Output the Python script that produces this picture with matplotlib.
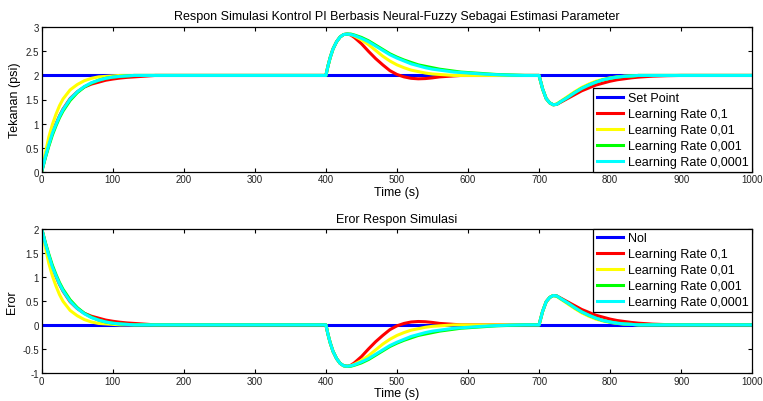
import matplotlib
matplotlib.use("Agg")
import matplotlib.pyplot as plt

plt.rcParams["font.family"] = ["Liberation Sans", "DejaVu Sans"]

# time grid (s) shared by all response series
T = [0, 5, 10, 15, 20, 25, 30, 40, 50, 60, 70, 80, 90, 100, 110, 120, 130, 140, 150, 160,
     200, 300, 400, 403, 406, 410, 415, 420, 425, 430, 435,
     440, 450, 460, 470, 480, 490, 500, 510, 520, 530, 540, 550, 560, 570, 580, 590, 600,
     620, 640, 660, 680, 700, 705, 710, 715, 720, 725, 730,
     740, 750, 760, 770, 780, 790, 800, 810, 820, 830, 840, 850, 860, 870, 880, 900, 1000]

# pressure response (psi)
LR_01 = [0, 0.30, 0.56, 0.80, 0.99, 1.16, 1.30, 1.52, 1.66, 1.76, 1.82, 1.86, 1.90, 1.925, 1.945, 1.96, 1.97, 1.98, 1.99, 2.0,
         2.0, 2.0, 2.0, 2.2, 2.37, 2.55, 2.70, 2.80, 2.85, 2.86, 2.84,
         2.79, 2.66, 2.50, 2.35, 2.22, 2.10, 2.02, 1.97, 1.94, 1.93, 1.935, 1.95, 1.97, 1.98, 1.99, 2.0, 2.0,
         2.0, 2.0, 2.0, 2.0, 2.0, 1.72, 1.52, 1.43, 1.39, 1.40, 1.44,
         1.52, 1.60, 1.68, 1.74, 1.80, 1.84, 1.88, 1.91, 1.93, 1.95, 1.965, 1.975, 1.985, 1.99, 1.995, 2.0, 2.0]
LR_001 = [0, 0.38, 0.72, 0.98, 1.19, 1.37, 1.51, 1.70, 1.81, 1.89, 1.94, 1.97, 1.98, 1.99, 2.0, 2.0, 2.0, 2.0, 2.0, 2.0,
          2.0, 2.0, 2.0, 2.2, 2.37, 2.55, 2.70, 2.80, 2.85, 2.86, 2.85,
          2.82, 2.74, 2.64, 2.52, 2.40, 2.30, 2.22, 2.16, 2.11, 2.08, 2.05, 2.03, 2.02, 2.01, 2.0, 2.0, 2.0,
          2.0, 2.0, 2.0, 2.0, 2.0, 1.72, 1.52, 1.43, 1.39, 1.41, 1.46,
          1.56, 1.66, 1.75, 1.82, 1.88, 1.92, 1.95, 1.97, 1.985, 1.99, 2.0, 2.0, 2.0, 2.0, 2.0, 2.0, 2.0]
LR_0001 = [0, 0.28, 0.53, 0.76, 0.95, 1.12, 1.26, 1.48, 1.64, 1.76, 1.84, 1.90, 1.94, 1.965, 1.98, 1.99, 2.0, 2.0, 2.0, 2.0,
           2.0, 2.0, 2.0, 2.2, 2.37, 2.55, 2.70, 2.80, 2.85, 2.86, 2.86,
           2.84, 2.79, 2.72, 2.63, 2.54, 2.45, 2.38, 2.32, 2.27, 2.22, 2.19, 2.16, 2.13, 2.11, 2.09, 2.07, 2.06,
           2.04, 2.02, 2.01, 2.0, 2.0, 1.72, 1.52, 1.43, 1.39, 1.40, 1.45,
           1.54, 1.64, 1.73, 1.80, 1.86, 1.91, 1.94, 1.965, 1.98, 1.99, 2.0, 2.0, 2.0, 2.0, 2.0, 2.0, 2.0]
LR_00001 = [0, 0.30, 0.56, 0.80, 0.98, 1.15, 1.29, 1.51, 1.66, 1.77, 1.85, 1.90, 1.94, 1.965, 1.98, 1.99, 2.0, 2.0, 2.0, 2.0,
            2.0, 2.0, 2.0, 2.2, 2.37, 2.55, 2.70, 2.80, 2.85, 2.86, 2.85,
            2.83, 2.77, 2.70, 2.61, 2.52, 2.43, 2.36, 2.30, 2.24, 2.20, 2.16, 2.13, 2.11, 2.09, 2.07, 2.06, 2.05,
            2.03, 2.015, 2.005, 2.0, 2.0, 1.72, 1.52, 1.43, 1.39, 1.40, 1.45,
            1.54, 1.64, 1.73, 1.80, 1.86, 1.91, 1.94, 1.965, 1.98, 1.99, 2.0, 2.0, 2.0, 2.0, 2.0, 2.0, 2.0]

SET_POINT = 2.0
T_REF = [0, 1000]

SERIES = [
    ("Learning Rate 0,1", LR_01, "#ff0000"),
    ("Learning Rate 0,01", LR_001, "#ffff00"),
    ("Learning Rate 0,001", LR_0001, "#00ff00"),
    ("Learning Rate 0,0001", LR_00001, "#00ffff"),
]

X_TICKS = list(range(0, 1001, 100))
Y_TICKS_TOP = [0, 0.5, 1, 1.5, 2, 2.5, 3]
Y_TICKS_BOT = [-1, -0.5, 0, 0.5, 1, 1.5, 2]


def tick_text(v):
    return f"{v:g}"


def style_axes(ax, yticks):
    ax.set_xlim(0, 1000)
    ax.set_ylim(yticks[0], yticks[-1])
    ax.set_xticks(X_TICKS)
    ax.set_xticklabels([tick_text(v) for v in X_TICKS])
    ax.set_yticks(yticks)
    ax.set_yticklabels([tick_text(v) for v in yticks])
    ax.tick_params(direction="in", top=True, right=True, length=3, width=0.8,
                   labelsize=7, pad=2, labelcolor="#222222")
    for s in ax.spines.values():
        s.set_linewidth(0.9)


fig = plt.figure(figsize=(7.63, 4.02), dpi=100)
ax1 = fig.add_axes([41.7 / 763, 1 - 172.7 / 402, 710.5 / 763, 144.4 / 402])
ax2 = fig.add_axes([41.7 / 763, 1 - 374 / 402, 710.5 / 763, 144.4 / 402])

lw = 2.2

ax1.plot(T_REF, [SET_POINT, SET_POINT], color="#0000ff", lw=lw, label="Set Point")
for name, ys, c in SERIES:
    ax1.plot(T, ys, color=c, lw=lw, label=name)
style_axes(ax1, Y_TICKS_TOP)
ax1.set_title("Respon Simulasi Kontrol PI Berbasis Neural-Fuzzy Sebagai Estimasi Parameter",
              fontsize=9, pad=6)
ax1.set_xlabel("Time (s)", fontsize=9, labelpad=1)
ax1.set_ylabel("Tekanan (psi)", fontsize=9, labelpad=3)

ax2.plot(T_REF, [0, 0], color="#0000ff", lw=lw, label="Nol")
for name, ys, c in SERIES:
    ax2.plot(T, [SET_POINT - v for v in ys], color=c, lw=lw, label=name)
style_axes(ax2, Y_TICKS_BOT)
ax2.set_title("Eror Respon Simulasi", fontsize=9, pad=5)
ax2.set_xlabel("Time (s)", fontsize=9, labelpad=1)
ax2.set_ylabel("Eror", fontsize=9, labelpad=3)

for ax, loc in ((ax1, "lower right"), (ax2, "upper right")):
    leg = ax.legend(loc=loc, fontsize=9, frameon=True, fancybox=False,
                    borderaxespad=0, handlelength=2.1, handletextpad=0.35,
                    labelspacing=0.32, borderpad=0.3)
    leg.get_frame().set_edgecolor("black")
    leg.get_frame().set_linewidth(0.9)
    leg.get_frame().set_alpha(1)

fig.savefig("out.png", dpi=100)
